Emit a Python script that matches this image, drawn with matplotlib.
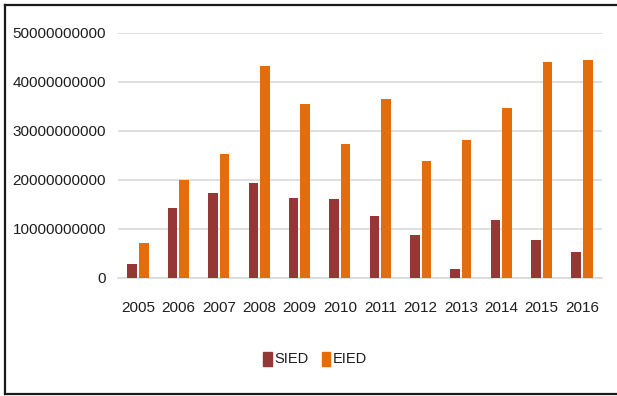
import matplotlib
matplotlib.use("Agg")
import matplotlib.pyplot as plt
from matplotlib.lines import Line2D
from matplotlib.patches import Patch
import numpy as np

plt.rcParams['font.family'] = ['Liberation Sans', 'DejaVu Sans']

years = ["2005", "2006", "2007", "2008", "2009", "2010",
         "2011", "2012", "2013", "2014", "2015", "2016"]
sied = [2.7e9, 14.2e9, 17.2e9, 19.3e9, 16.3e9, 16.1e9,
        12.6e9, 8.7e9, 1.8e9, 11.8e9, 7.7e9, 5.2e9]
eied = [7.1e9, 19.9e9, 25.2e9, 43.3e9, 35.5e9, 27.3e9,
        36.5e9, 23.9e9, 28.1e9, 34.6e9, 44.0e9, 44.5e9]
yticks = [0, 10000000000, 20000000000, 30000000000, 40000000000, 50000000000]

c_sied = "#953735"
c_eied = "#E46C0A"
txt = "#1e1e1e"

fig = plt.figure(figsize=(6.17, 3.96), dpi=100)
ax = fig.add_axes([0.191, 0.2987, 0.785, 0.6187])

x = np.arange(len(years))
w = 0.236
off = 0.143
ax.bar(x - off, sied, width=w, color=c_sied, zorder=3)
ax.bar(x + off, eied, width=w, color=c_eied, zorder=3)

ax.set_xlim(-0.5, len(years) - 0.5)
ax.set_ylim(0, 50000000000)
ax.set_yticks(yticks)
ax.set_yticklabels([str(v) for v in yticks])
ax.set_xticks(x)
ax.set_xticklabels(years)

ax.grid(axis='y', color="#D9D9D9", linewidth=1.2, zorder=0)
for s in ['top', 'right', 'left']:
    ax.spines[s].set_visible(False)
ax.spines['bottom'].set_color("#D9D9D9")
ax.spines['bottom'].set_linewidth(1.2)
ax.tick_params(axis='both', length=0, labelsize=11, colors=txt)
ax.tick_params(axis='y', pad=8.5)
ax.tick_params(axis='x', pad=17)

handles = [Patch(color=c_sied, label="SIED"), Patch(color=c_eied, label="EIED")]
fig.legend(handles=handles, loc='center', bbox_to_anchor=(315 / 617, 1 - 359 / 396),
           ncol=2, frameon=False, fontsize=10.5, handlelength=0.6, handleheight=1.1,
           handletextpad=0.15, columnspacing=0.9, labelcolor=txt)

# outer frame around the chart
lw = 1.6
fig.add_artist(Line2D([5 / 617, 1.0], [1 - 5 / 396, 1 - 5 / 396], color="#1a1a1a", lw=lw))
fig.add_artist(Line2D([5 / 617, 5 / 617], [1 - 5 / 396, 1 - 394 / 396], color="#1a1a1a", lw=lw))
fig.add_artist(Line2D([5 / 617, 1.0], [1 - 394 / 396, 1 - 394 / 396], color="#1a1a1a", lw=lw))

fig.savefig("out.png", dpi=100)
